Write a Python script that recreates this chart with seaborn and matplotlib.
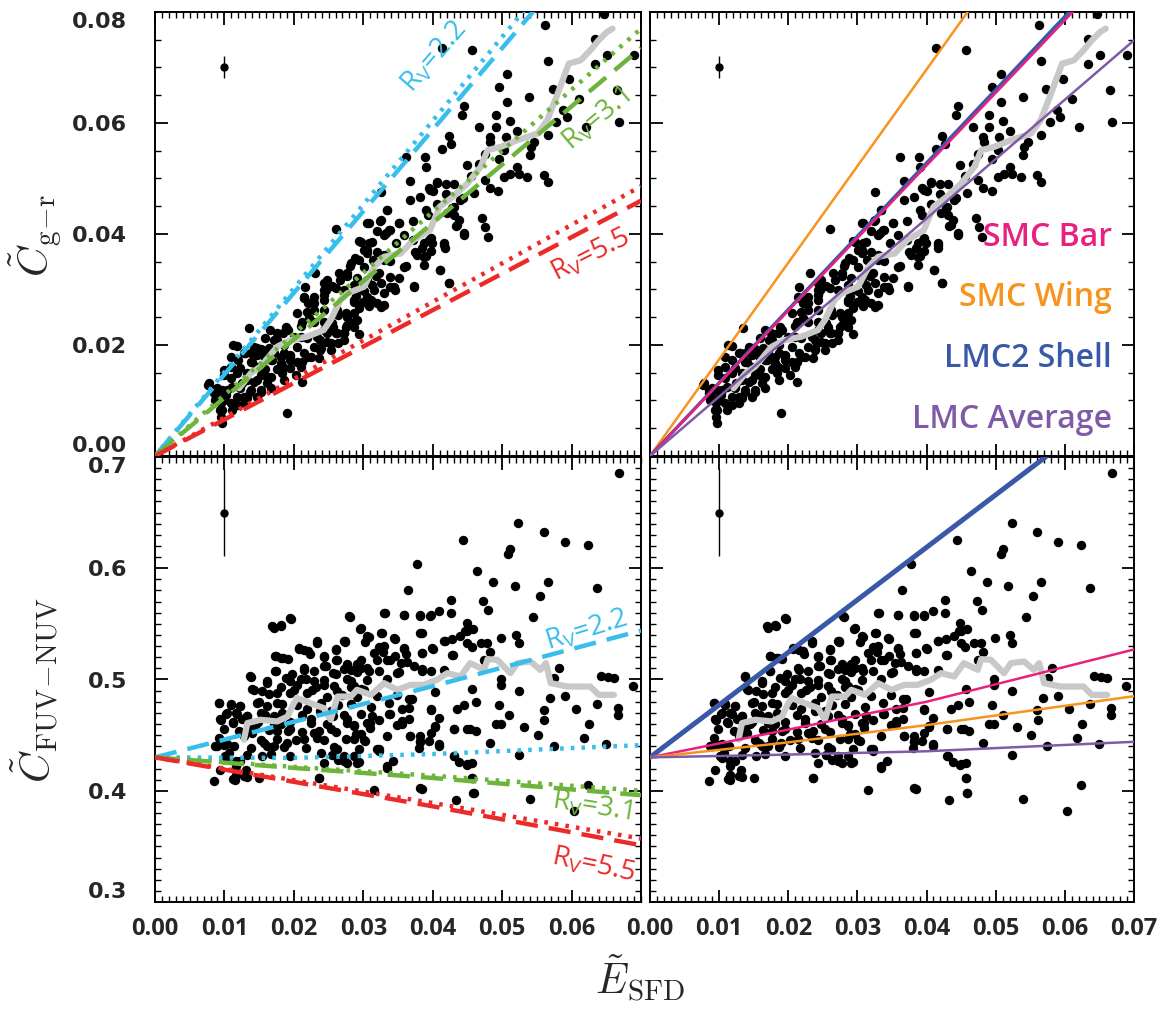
import numpy as np
import pandas as pd
import matplotlib
matplotlib.use("Agg")
import matplotlib.pyplot as plt
from matplotlib.ticker import MultipleLocator
import seaborn as sns

sns.set_theme(style="white")
plt.rcParams['font.family'] = ['DejaVu Sans']
plt.rcParams['mathtext.fontset'] = 'custom'
plt.rcParams['mathtext.rm'] = 'Open Sans'
plt.rcParams['mathtext.it'] = 'Open Sans:italic'
plt.rcParams['mathtext.bf'] = 'Open Sans:bold'

# ---------------- data: g-r colour excess (top panels) ----------------
gr_x = [0.0647,0.0562,0.0413,0.0457,0.0566,0.0634,0.0651,0.0634,0.0690,0.0507,0.0495,0.0597,0.0573,0.0666,0.0539,0.0611,
        0.0445,0.0507,0.0588,0.0442,0.0491,0.0593,0.0511,0.0578,0.0668,0.0467,0.0491,0.0621,0.0521,0.0566,0.0423,0.0482,
        0.0505,0.0546,0.0427,0.0414,0.0483,0.0503,0.0541,0.0475,0.0540,0.0362,0.0389,0.0495,0.0467,0.0521,0.0390,0.0449,
        0.0524,0.0512,0.0536,0.0560,0.0566,0.0455,0.0475,0.0503,0.0367,0.0406,0.0419,0.0431,0.0482,0.0494,0.0459,0.0325,
        0.0396,0.0401,0.0419,0.0443,0.0382,0.0406,0.0428,0.0391,0.0334,0.0393,0.0431,0.0438,0.0471,0.0433,0.0476,0.0480,
        0.0445,0.0308,0.0351,0.0372,0.0324,0.0261,0.0320,0.0339,0.0332,0.0359,0.0371,0.0395,0.0399,0.0416,0.0417,0.0294,
        0.0308,0.0347,0.0385,0.0397,0.0301,0.0306,0.0330,0.0377,0.0390,0.0288,0.0314,0.0339,0.0361,0.0388,0.0281,0.0301,
        0.0231,0.0265,0.0277,0.0291,0.0318,0.0339,0.0351,0.0411,0.0243,0.0255,0.0287,0.0313,0.0325,0.0344,0.0373,0.0423,
        0.0246,0.0260,0.0272,0.0301,0.0330,0.0346,0.0216,0.0243,0.0289,0.0306,0.0215,0.0229,0.0287,0.0299,0.0311,0.0320,
        0.0330,0.0294,0.0308,0.0219,0.0243,0.0205,0.0222,0.0263,0.0275,0.0229,0.0212,0.0243,0.0287,0.0255,0.0275,0.0175,
        0.0191,0.0210,0.0243,0.0260,0.0272,0.0294,0.0135,0.0188,0.0159,0.0172,0.0200,0.0219,0.0234,0.0248,0.0263,0.0186,
        0.0205,0.0239,0.0253,0.0118,0.0143,0.0152,0.0164,0.0128,0.0138,0.0147,0.0157,0.0171,0.0186,0.0195,0.0215,0.0224,
        0.0236,0.0119,0.0138,0.0167,0.0181,0.0195,0.0212,0.0109,0.0123,0.0147,0.0159,0.0176,0.0195,0.0183,0.0152,0.0167,
        0.0203,0.0212,0.0186,0.0099,0.0109,0.0133,0.0143,0.0162,0.0078,0.0090,0.0097,0.0111,0.0123,0.0138,0.0152,0.0167,
        0.0085,0.0102,0.0118,0.0133,0.0147,0.0087,0.0095,0.0109,0.0128,0.0111,0.0097,0.0095,0.0097,0.0190]
gr_y = [0.0797,0.0777,0.0736,0.0732,0.0712,0.0751,0.0723,0.0707,0.0723,0.0689,0.0664,0.0680,0.0662,0.0659,0.0647,0.0644,
        0.0631,0.0637,0.0623,0.0614,0.0614,0.0610,0.0604,0.0601,0.0601,0.0592,0.0592,0.0593,0.0586,0.0578,0.0577,0.0575,
        0.0575,0.0566,0.0562,0.0553,0.0565,0.0551,0.0557,0.0545,0.0542,0.0539,0.0539,0.0536,0.0526,0.0521,0.0520,0.0524,
        0.0509,0.0509,0.0502,0.0506,0.0494,0.0505,0.0497,0.0502,0.0495,0.0492,0.0490,0.0490,0.0482,0.0478,0.0474,0.0475,
        0.0480,0.0478,0.0472,0.0464,0.0467,0.0454,0.0446,0.0443,0.0443,0.0434,0.0434,0.0425,0.0428,0.0414,0.0412,0.0395,
        0.0398,0.0420,0.0419,0.0424,0.0424,0.0409,0.0405,0.0407,0.0401,0.0398,0.0389,0.0389,0.0383,0.0380,0.0374,0.0388,
        0.0383,0.0383,0.0374,0.0370,0.0371,0.0365,0.0362,0.0362,0.0360,0.0356,0.0353,0.0352,0.0342,0.0344,0.0342,0.0341,
        0.0330,0.0329,0.0324,0.0320,0.0324,0.0323,0.0320,0.0336,0.0311,0.0306,0.0308,0.0308,0.0311,0.0304,0.0306,0.0311,
        0.0299,0.0302,0.0299,0.0298,0.0293,0.0299,0.0304,0.0290,0.0288,0.0287,0.0285,0.0275,0.0278,0.0278,0.0281,0.0276,
        0.0272,0.0266,0.0270,0.0260,0.0263,0.0257,0.0248,0.0254,0.0257,0.0242,0.0242,0.0242,0.0242,0.0239,0.0233,0.0221,
        0.0227,0.0234,0.0227,0.0222,0.0221,0.0219,0.0231,0.0233,0.0212,0.0209,0.0215,0.0212,0.0215,0.0206,0.0203,0.0200,
        0.0197,0.0194,0.0191,0.0198,0.0197,0.0192,0.0194,0.0185,0.0185,0.0182,0.0180,0.0185,0.0185,0.0180,0.0185,0.0179,
        0.0176,0.0173,0.0170,0.0173,0.0168,0.0173,0.0170,0.0161,0.0158,0.0161,0.0156,0.0156,0.0158,0.0149,0.0146,0.0143,
        0.0146,0.0134,0.0137,0.0146,0.0140,0.0137,0.0134,0.0131,0.0131,0.0122,0.0119,0.0125,0.0122,0.0119,0.0116,0.0122,
        0.0113,0.0110,0.0107,0.0104,0.0107,0.0101,0.0095,0.0095,0.0095,0.0083,0.0083,0.0071,0.0059,0.0077]
# denser core of the g-r cloud
gr_x2 = [0.0113,0.0130,0.0147,0.0157,0.0140,0.0152,0.0169,0.0181,0.0195,0.0185,0.0205,0.0219,0.0210,0.0229,0.0238,0.0248,
         0.0257,0.0277,0.0286,0.0229,0.0221,0.0243,0.0262,0.0272,0.0253,0.0238,0.0210,0.0185,0.0176,0.0166,0.0109,0.0099,
         0.0118,0.0133,0.0147,0.0162,0.0125,0.0104,0.0089,0.0099,0.0128,0.0137,0.0152,0.0118,0.0094,0.0077,0.0085,
         0.0306,0.0325,0.0351,0.0334,0.0368,0.0394,0.0406,0.0296,0.0313,0.0330,0.0337,0.0306,0.0320,0.0330,0.0282,0.0294,
         0.0277,0.0267,0.0248,0.0243,0.0229,0.0214,0.0306,0.0322,0.0315,0.0339,0.0291,0.0286,0.0306,0.0325,0.0262,0.0277,
         0.0291,0.0286,0.0257,0.0272,0.0358,0.0373,0.0387,0.0375,0.0387,0.0397,0.0411,0.0423,0.0416,0.0445,0.0435,0.0421,
         0.0430,0.0440]
gr_y2 = [0.0200,0.0185,0.0194,0.0182,0.0170,0.0158,0.0173,0.0179,0.0182,0.0161,0.0170,0.0179,0.0161,0.0197,0.0209,0.0221,
         0.0233,0.0236,0.0257,0.0263,0.0275,0.0281,0.0221,0.0209,0.0203,0.0191,0.0215,0.0221,0.0209,0.0227,0.0179,0.0155,
         0.0149,0.0149,0.0137,0.0143,0.0131,0.0119,0.0107,0.0101,0.0107,0.0116,0.0119,0.0092,0.0083,0.0128,0.0119,
         0.0419,0.0425,0.0419,0.0443,0.0461,0.0482,0.0494,0.0386,0.0386,0.0398,0.0407,0.0371,0.0368,0.0353,0.0347,0.0353,
         0.0329,0.0317,0.0317,0.0299,0.0287,0.0287,0.0317,0.0329,0.0299,0.0305,0.0299,0.0281,0.0275,0.0269,0.0263,0.0251,
         0.0245,0.0233,0.0227,0.0221,0.0341,0.0305,0.0359,0.0368,0.0383,0.0392,0.0335,0.0311,0.0383,0.0401,0.0416,0.0437,
         0.0449,0.0461]

# ---------------- data: FUV-NUV colour (bottom panels) ----------------
uv_x = [0.0668,0.0523,0.0560,0.0444,0.0590,0.0623,0.0511,0.0508,0.0377,0.0464,0.0487,0.0566,0.0518,0.0637,0.0364,0.0554,
        0.0427,0.0473,0.0480,0.0409,0.0427,0.0331,0.0359,0.0382,0.0396,0.0281,0.0544,0.0196,0.0182,0.0171,0.0295,0.0449,
        0.0447,0.0458,0.0325,0.0308,0.0345,0.0385,0.0440,0.0499,0.0520,0.0417,0.0428,0.0234,0.0274,0.0303,0.0450,0.0469,
        0.0478,0.0524,0.0207,0.0215,0.0260,0.0322,0.0359,0.0400,0.0456,0.0223,0.0329,0.0385,0.0429,0.0482,0.0174,0.0182,
        0.0191,0.0243,0.0346,0.0361,0.0260,0.0296,0.0334,0.0339,0.0363,0.0474,0.0582,0.0373,0.0277,0.0306,0.0282,0.0215,
        0.0246,0.0174,0.0198,0.0260,0.0291,0.0323,0.0351,0.0385,0.0416,0.0138,0.0188,0.0217,0.0243,0.0277,0.0306,0.0334,
        0.0498,0.0642,0.0652,0.0661,0.0689,0.0575,0.0162,0.0181,0.0205,0.0232,0.0258,0.0282,0.0296,0.0498,0.0524,0.0140,
        0.0164,0.0195,0.0219,0.0248,0.0270,0.0291,0.0320,0.0349,0.0404,0.0457,0.0569,0.0590,0.0092,0.0109,0.0123,0.0150,
        0.0176,0.0205,0.0239,0.0263,0.0282,0.0311,0.0337,0.0366,0.0366,0.0397,0.0435,0.0462,0.0495,0.0636,0.0667,0.0102,
        0.0116,0.0133,0.0159,0.0183,0.0212,0.0253,0.0272,0.0296,0.0313,0.0337,0.0445,0.0510,0.0560,0.0606,0.0667,0.0095,
        0.0112,0.0126,0.0148,0.0171,0.0195,0.0224,0.0248,0.0286,0.0306,0.0322,0.0409,0.0561,0.0349,0.0356,0.0491,0.0498,
        0.0625,0.0138,0.0164,0.0191,0.0212,0.0236,0.0260,0.0289,0.0309,0.0397,0.0404,0.0430,0.0454,0.0462,0.0531,0.0551,
        0.0092,0.0128,0.0152,0.0176,0.0203,0.0243,0.0275,0.0301,0.0368,0.0382,0.0618,0.0649,0.0482,0.0090,0.0100,0.0114,
        0.0138,0.0162,0.0186,0.0217,0.0258,0.0294,0.0320,0.0382,0.0409,0.0574,0.0107,0.0133,0.0154,0.0167,0.0195,0.0239,
        0.0255,0.0322,0.0431,0.0524,0.0104,0.0123,0.0263,0.0277,0.0294,0.0343,0.0438,0.0449,0.0457,0.0094,0.0116,0.0131,
        0.0334,0.0116,0.0133,0.0150,0.0085,0.0115,0.0236,0.0457,0.0315,0.0384,0.0458,0.0623,0.0540,0.0433,0.0603]
uv_y = [0.6853,0.6404,0.6323,0.6254,0.6237,0.6213,0.6171,0.6129,0.6039,0.5979,0.5877,0.5877,0.5841,0.5820,0.5805,0.5751,
        0.5716,0.5710,0.5626,0.5620,0.5602,0.5596,0.5581,0.5575,0.5575,0.5566,0.5566,0.5545,0.5485,0.5461,0.5458,0.5506,
        0.5437,0.5458,0.5416,0.5380,0.5365,0.5416,0.5392,0.5371,0.5398,0.5347,0.5362,0.5332,0.5341,0.5335,0.5326,0.5326,
        0.5326,0.5326,0.5278,0.5266,0.5272,0.5296,0.5272,0.5272,0.5290,0.5231,0.5251,0.5237,0.5216,0.5243,0.5207,0.5189,
        0.5183,0.5201,0.5207,0.5231,0.5171,0.5177,0.5171,0.5177,0.5153,0.5171,0.5099,0.5123,0.5132,0.5102,0.5081,0.5087,
        0.5123,0.5075,0.5051,0.5051,0.5063,0.5072,0.5063,0.5072,0.5087,0.5021,0.5012,0.5003,0.4997,0.5003,0.4997,0.5003,
        0.5003,0.5033,0.5021,0.5009,0.4943,0.5012,0.4967,0.4931,0.4952,0.4931,0.4943,0.4931,0.4913,0.4952,0.4901,0.4913,
        0.4871,0.4877,0.4877,0.4847,0.4862,0.4847,0.4853,0.4862,0.4892,0.4913,0.4832,0.4853,0.4787,0.4772,0.4763,0.4802,
        0.4787,0.4772,0.4787,0.4772,0.4781,0.4757,0.4787,0.4823,0.4743,0.4728,0.4734,0.4802,0.4772,0.4781,0.4743,0.4692,
        0.4698,0.4668,0.4683,0.4698,0.4683,0.4713,0.4683,0.4692,0.4674,0.4692,0.4772,0.4677,0.4728,0.4734,0.4683,0.4632,
        0.4614,0.4644,0.4614,0.4608,0.4614,0.4608,0.4602,0.4593,0.4608,0.4638,0.4653,0.4632,0.4593,0.4602,0.4602,0.4602,
        0.4602,0.4554,0.4542,0.4533,0.4524,0.4533,0.4524,0.4512,0.4563,0.4518,0.4572,0.4554,0.4554,0.4533,0.4572,0.4503,
        0.4473,0.4494,0.4458,0.4464,0.4452,0.4458,0.4464,0.4458,0.4488,0.4494,0.4473,0.4422,0.4428,0.4404,0.4413,0.4398,
        0.4383,0.4398,0.4389,0.4383,0.4389,0.4374,0.4374,0.4434,0.4404,0.4398,0.4338,0.4323,0.4308,0.4332,0.4314,0.4338,
        0.4323,0.4353,0.4314,0.4323,0.4293,0.4263,0.4278,0.4249,0.4254,0.4263,0.4254,0.4234,0.4249,0.4183,0.4219,0.4183,
        0.4204,0.4144,0.4123,0.4114,0.4084,0.4099,0.4114,0.4114,0.4009,0.4015,0.3979,0.4054,0.3928,0.3913,0.3820]
# denser core of the FUV-NUV cloud
uv_x2 = [0.0195,0.0181,0.0169,0.0279,0.0234,0.0272,0.0207,0.0221,0.0260,0.0173,0.0185,0.0243,0.0291,0.0262,0.0214,0.0229,
         0.0243,0.0257,0.0272,0.0173,0.0137,0.0162,0.0195,0.0210,0.0229,0.0243,0.0282,0.0142,0.0154,0.0176,0.0200,0.0226,
         0.0262,0.0092,0.0109,0.0123,0.0147,0.0162,0.0183,0.0104,0.0118,0.0133,0.0152,0.0171,0.0219,0.0238,0.0094,0.0113,
         0.0145,0.0181,0.0224,0.0257,0.0277,0.0099,0.0121,0.0140,0.0176,0.0195,0.0229,0.0253,0.0214,0.0234,0.0157,0.0171,
         0.0190,0.0087,0.0104,0.0262,0.0272,0.0286,0.0101,0.0116,0.0243,0.0113,0.0128,0.0236,
         0.0330,0.0358,0.0382,0.0397,0.0296,0.0274,0.0306,0.0327,0.0344,0.0382,0.0416,0.0450,0.0315,0.0330,0.0358,0.0320,
         0.0354,0.0385,0.0399,0.0428,0.0277,0.0296,0.0308,0.0349,0.0385,0.0397,0.0286,0.0301,0.0370,0.0356,0.0397,0.0339,
         0.0277,0.0286,0.0310,0.0296,0.0356,0.0366,0.0404,0.0430,0.0450,0.0286,0.0303,0.0368,0.0382,0.0394,0.0409,0.0334,
         0.0322,0.0380,0.0272,0.0291,0.0334,0.0430,0.0450,0.0457,0.0382,0.0459]
uv_y2 = [0.5553,0.5493,0.5478,0.5568,0.5344,0.5344,0.5284,0.5254,0.5269,0.5209,0.5195,0.5209,0.5135,0.5179,0.5105,0.5074,
         0.5119,0.5060,0.5090,0.5074,0.5030,0.4985,0.4985,0.5000,0.4985,0.4955,0.4985,0.4910,0.4895,0.4881,0.4910,0.4910,
         0.4895,0.4791,0.4776,0.4761,0.4791,0.4761,0.4776,0.4701,0.4686,0.4671,0.4701,0.4671,0.4731,0.4716,0.4641,0.4611,
         0.4596,0.4596,0.4641,0.4671,0.4611,0.4552,0.4536,0.4522,0.4536,0.4552,0.4522,0.4552,0.4462,0.4477,0.4432,0.4402,
         0.4432,0.4402,0.4417,0.4372,0.4312,0.4312,0.4312,0.4267,0.4253,0.4103,0.4133,0.4118,
         0.5598,0.5583,0.5583,0.5583,0.5464,0.5344,0.5388,0.5419,0.5374,0.5419,0.5344,0.5433,0.5240,0.5299,0.5284,0.5179,
         0.5150,0.5240,0.5284,0.5224,0.5135,0.5105,0.5074,0.5060,0.5090,0.5074,0.4940,0.4910,0.4821,0.4731,0.4731,0.4686,
         0.4641,0.4581,0.4611,0.4507,0.4626,0.4641,0.4581,0.4552,0.4552,0.4462,0.4447,0.4492,0.4447,0.4447,0.4417,0.4492,
         0.4372,0.4387,0.4267,0.4253,0.4222,0.4312,0.4238,0.4118,0.4029,0.3984]

# ---------------- running medians (grey) ----------------
med_gr_x = [0.0121,0.0138,0.0152,0.0176,0.0195,0.0219,0.0243,0.0253,0.0267,0.0277,0.0301,0.0316,0.0330,0.0354,0.0372,
            0.0396,0.0410,0.0429,0.0450,0.0469,0.0479,0.0498,0.0522,0.0551,0.0565,0.0580,0.0596,0.0613,0.0627,0.0639,0.0651,0.0659]
med_gr_y = [0.0122,0.0149,0.0161,0.0197,0.0209,0.0215,0.0227,0.0245,0.0281,0.0293,0.0305,0.0341,0.0359,0.0365,0.0389,
            0.0407,0.0449,0.0467,0.0491,0.0521,0.0551,0.0557,0.0569,0.0581,0.0605,0.0653,0.0707,0.0713,0.0731,0.0749,0.0764,0.0770]
med_uv_x = [0.0128,0.0133,0.0152,0.0176,0.0191,0.0200,0.0205,0.0224,0.0243,0.0253,0.0263,0.0282,0.0291,0.0311,0.0330,
            0.0349,0.0368,0.0387,0.0406,0.0421,0.0440,0.0454,0.0474,0.0479,0.0493,0.0512,0.0522,0.0541,0.0555,0.0563,0.0570,
            0.0594,0.0627,0.0639,0.0661]
med_uv_y = [0.4458,0.4608,0.4638,0.4623,0.4668,0.4787,0.4832,0.4787,0.4743,0.4638,0.4847,0.4847,0.4907,0.4862,0.4967,
            0.4907,0.4952,0.4952,0.4997,0.5057,0.5027,0.5147,0.5087,0.5183,0.5177,0.5057,0.5147,0.5162,0.5087,0.5147,0.4967,
            0.4937,0.4937,0.4862,0.4862]

# ---------------- model curves ----------------
model_x = [0.0, 0.07]
rv22_dash_gr = [0.0, 0.1029]; rv22_dot_gr = [0.0, 0.1057]
rv31_dash_gr = [0.0, 0.0735]; rv31_dot_gr = [0.0, 0.0770]
rv55_dash_gr = [0.0, 0.0460]; rv55_dot_gr = [0.0, 0.0486]

curve_x = [0.0, 0.02, 0.04, 0.07]
rv22_dash_uv = [0.430, 0.462, 0.494, 0.544]
rv22_dot_uv  = [0.430, 0.4295, 0.4330, 0.441]
rv31_dash_uv = [0.430, 0.4205, 0.4115, 0.396]
rv31_dot_uv  = [0.430, 0.4215, 0.4135, 0.400]
rv55_dash_uv = [0.430, 0.4080, 0.3860, 0.351]
rv55_dot_uv  = [0.430, 0.4095, 0.3890, 0.357]

smcbar_gr = [0.0, 0.0916]; smcwing_gr = [0.0, 0.1219]
lmc2_gr   = [0.0, 0.0924]; lmcavg_gr  = [0.0, 0.0749]
smcbar_uv  = [0.430, 0.455, 0.480, 0.527]
smcwing_uv = [0.430, 0.4435, 0.459, 0.485]
lmc2_uv    = [0.430, 0.5244, 0.6188, 0.7604]
lmcavg_uv  = [0.430, 0.4325, 0.4355, 0.444]

err_x = [0.01]; err_gr = [0.0701]; err_gr_e = [0.002]; err_uv = [0.650]; err_uv_e = [0.039]

C_BLUE = '#36BEEC'; C_GREEN = '#6DB43C'; C_RED = '#EC2A2A'
C_PINK = '#E8207F'; C_ORANGE = '#F7941E'; C_SHELL = '#3A58A8'; C_PURPLE = '#7F5AA6'
C_GREY = '#C8C8C8'

top_df = pd.DataFrame({'E': gr_x + gr_x2, 'C': gr_y + gr_y2})
bot_df = pd.DataFrame({'E': uv_x + uv_x2, 'C': uv_y + uv_y2})

fig = plt.figure(figsize=(11.66, 10.22), dpi=100)
W, H = 1166, 1022
def box(l, t, r, b):
    return [l / W, 1 - b / H, (r - l) / W, (b - t) / H]
ax_tl = fig.add_axes(box(155, 12, 641, 456))
ax_tr = fig.add_axes(box(650, 12, 1134, 456))
ax_bl = fig.add_axes(box(155, 457, 641, 902))
ax_br = fig.add_axes(box(650, 457, 1134, 902))

dash = (0, (5, 2.5))
dot = (0, (0.8, 1.6))

for ax, df, (mx, my), (ex, ey, ee) in [
        (ax_tl, top_df, (med_gr_x, med_gr_y), (err_x, err_gr, err_gr_e)),
        (ax_tr, top_df, (med_gr_x, med_gr_y), (err_x, err_gr, err_gr_e)),
        (ax_bl, bot_df, (med_uv_x, med_uv_y), (err_x, err_uv, err_uv_e)),
        (ax_br, bot_df, (med_uv_x, med_uv_y), (err_x, err_uv, err_uv_e))]:
    sns.scatterplot(data=df, x='E', y='C', ax=ax, color='black', s=46, linewidth=0, zorder=3)
    sns.lineplot(x=mx, y=my, ax=ax, color=C_GREY, lw=4.5, sort=False, estimator=None, zorder=4)
    ax.errorbar(ex, ey, yerr=ee, fmt='o', color='black', ms=5, elinewidth=1, capsize=0, zorder=5)

# top-left models
for ys, c in [(rv22_dash_gr, C_BLUE), (rv31_dash_gr, C_GREEN), (rv55_dash_gr, C_RED)]:
    ax_tl.plot(model_x, ys, color=c, lw=3.2, ls=dash, zorder=6)
for ys, c in [(rv22_dot_gr, C_BLUE), (rv31_dot_gr, C_GREEN), (rv55_dot_gr, C_RED)]:
    ax_tl.plot(model_x, ys, color=c, lw=3.2, ls=dot, zorder=6)
# bottom-left models
for ys, c in [(rv22_dash_uv, C_BLUE), (rv31_dash_uv, C_GREEN), (rv55_dash_uv, C_RED)]:
    ax_bl.plot(curve_x, ys, color=c, lw=3.2, ls=dash, zorder=6)
for ys, c in [(rv22_dot_uv, C_BLUE), (rv31_dot_uv, C_GREEN), (rv55_dot_uv, C_RED)]:
    ax_bl.plot(curve_x, ys, color=c, lw=3.2, ls=dot, zorder=6)
# right models
for ys, c, lw in [(smcwing_gr, C_ORANGE, 1.8), (lmc2_gr, C_SHELL, 2.4), (smcbar_gr, C_PINK, 1.8), (lmcavg_gr, C_PURPLE, 1.8)]:
    ax_tr.plot(model_x, ys, color=c, lw=lw, zorder=6)
for ys, c, lw in [(lmc2_uv, C_SHELL, 3.6), (smcbar_uv, C_PINK, 1.8), (smcwing_uv, C_ORANGE, 1.8), (lmcavg_uv, C_PURPLE, 1.8)]:
    ax_br.plot(curve_x, ys, color=c, lw=lw, zorder=6)

def ftext(px, py, s, c, rot):
    fig.text(px / W, 1 - py / H, s, color=c, fontsize=20, rotation=rot, ha='center', va='center',
             family='Open Sans', rotation_mode='anchor')
ftext(435, 57, r'R$_{\mathrm{V}}$=2.2', C_BLUE, 49)
ftext(597, 120, r'R$_{\mathrm{V}}$=3.1', C_GREEN, 40)
ftext(591, 255, r'R$_{\mathrm{V}}$=5.5', C_RED, 27)
ftext(587, 630, r'R$_{\mathrm{V}}$=2.2', C_BLUE, 17)
ftext(592, 807, r'R$_{\mathrm{V}}$=3.1', C_GREEN, -9)
ftext(593, 865, r'R$_{\mathrm{V}}$=5.5', C_RED, -12)

for s, c, py in [('SMC Bar', C_PINK, 237), ('SMC Wing', C_ORANGE, 298), ('LMC2 Shell', C_SHELL, 358), ('LMC Average', C_PURPLE, 420)]:
    fig.text(1112 / W, 1 - py / H, s, color=c, fontsize=23, fontweight='semibold', family='Open Sans',
             ha='right', va='center')

# axes formatting
for ax in [ax_tl, ax_tr, ax_bl, ax_br]:
    ax.set_xlim(0, 0.07)
    ax.xaxis.set_major_locator(MultipleLocator(0.01))
    ax.xaxis.set_minor_locator(MultipleLocator(0.001))
    ax.tick_params(which='both', direction='in', top=True, right=True, bottom=True, left=True, color='black')
    ax.tick_params(which='major', length=9, width=1.3)
    ax.tick_params(which='minor', length=4.5, width=1.0)
    for sp in ax.spines.values():
        sp.set_color('black'); sp.set_linewidth(1.4)
    ax.set_xlabel(''); ax.set_ylabel('')
for ax in [ax_tl, ax_tr]:
    ax.set_ylim(0, 0.08)
    ax.yaxis.set_major_locator(MultipleLocator(0.02))
    ax.yaxis.set_minor_locator(MultipleLocator(0.005))
    ax.tick_params(labelbottom=False)
for ax in [ax_bl, ax_br]:
    ax.set_ylim(0.3, 0.7)
    ax.yaxis.set_major_locator(MultipleLocator(0.1))
    ax.yaxis.set_minor_locator(MultipleLocator(0.01))
for ax in [ax_tr, ax_br]:
    ax.tick_params(labelleft=False)

ax_tl.set_yticks([0.0, 0.02, 0.04, 0.06, 0.08])
ax_tl.set_yticklabels(['0.00', '0.02', '0.04', '0.06', '0.08'])
ax_bl.set_yticks([0.3, 0.4, 0.5, 0.6, 0.7])
ax_bl.set_yticklabels(['0.3', '0.4', '0.5', '0.6', '0.7'])
for ax in [ax_tl, ax_bl]:
    ax.tick_params(axis='y', labelsize=16, pad=20)
    for t in ax.get_yticklabels():
        t.set_fontweight('bold'); t.set_family('DejaVu Sans')
    labs = ax.get_yticklabels()
    labs[0].set_va('bottom'); labs[-1].set_va('top')

ax_bl.set_xticks([0.0, 0.01, 0.02, 0.03, 0.04, 0.05, 0.06])
ax_bl.set_xticklabels(['0.00', '0.01', '0.02', '0.03', '0.04', '0.05', '0.06'])
ax_br.set_xticks([0.0, 0.01, 0.02, 0.03, 0.04, 0.05, 0.06, 0.07])
ax_br.set_xticklabels(['0.00', '0.01', '0.02', '0.03', '0.04', '0.05', '0.06', '0.07'])
for ax in [ax_bl, ax_br]:
    ax.xaxis.set_minor_locator(MultipleLocator(0.001))
    ax.tick_params(axis='x', labelsize=17, pad=11)
    for t in ax.get_xticklabels():
        t.set_fontweight('bold'); t.set_family('Open Sans')

yl1 = fig.text(35 / W, 1 - 235 / H, r'$\tilde{C}_{\rm g\!-\!r}$', fontsize=30, rotation=90, ha='center', va='center')
yl2 = fig.text(35 / W, 1 - 690 / H, r'$\tilde{C}_{\rm FUV\!-\!NUV}$', fontsize=30, rotation=90, ha='center', va='center')
xl = fig.text(640 / W, 1 - 978 / H, r'$\tilde{E}_{\rm SFD}$', fontsize=30, ha='center', va='center')
for t in (yl1, yl2, xl):
    t.set_math_fontfamily('cm')

fig.savefig('out.png', dpi=100)
